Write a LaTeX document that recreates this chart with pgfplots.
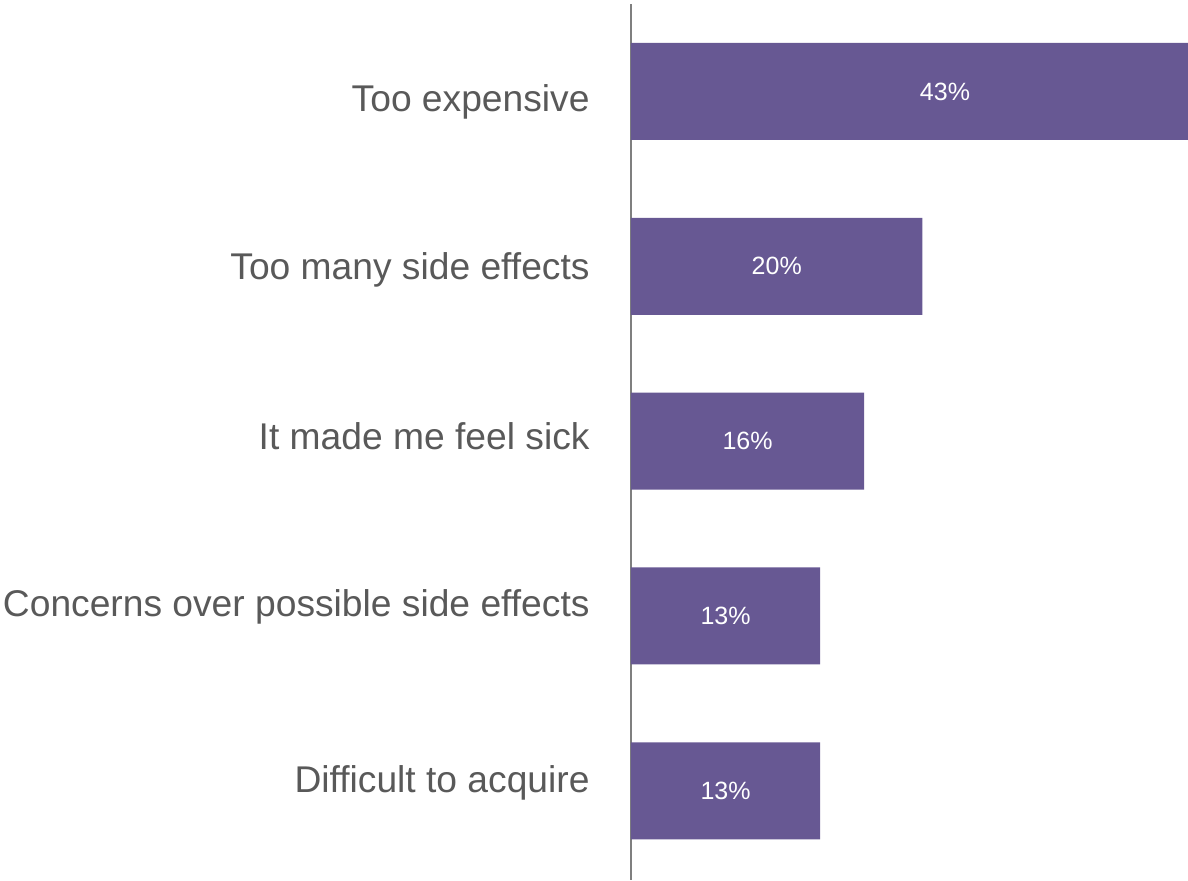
\documentclass[border=0pt]{standalone}
\usepackage{pgfplots}
\pgfplotsset{compat=1.18}
\usepackage{fontspec}
\setmainfont{Liberation Sans}
\definecolor{barcol}{HTML}{675893}
\definecolor{txtcol}{HTML}{595959}
\definecolor{axcol}{HTML}{7F7F7F}
\newcommand{\lab}[2]{\raisebox{#1}[0pt][0pt]{#2}}
\begin{document}
\begin{tikzpicture}
\begin{axis}[
  scale only axis,
  width=278.5pt, height=438pt,
  xmin=0, xmax=43,
  ymin=-0.5, ymax=4.51,
  y dir=reverse,
  axis x line=none,
  axis y line*=left,
  y axis line style={draw=axcol, line width=0.8pt, -},
  ytick={0,1,2,3,4},
  yticklabels={\lab{-9.95pt}{Too expensive},\lab{-6.7pt}{Too many side effects},\lab{-3.95pt}{It made me feel sick},\lab{-0.2pt}{Concerns over possible side effects},\lab{-0.7pt}{Difficult to acquire}},
  major tick length=0pt,
  yticklabel style={font=\fontsize{18.6}{21}\selectfont, text=txtcol, xshift=-17.2pt},
  clip=false,
]
\addplot[xbar, bar width=48.5pt, fill=barcol, draw=none] coordinates {
  (43,0) (22.5,1) (18,2) (14.6,3) (14.6,4)
};
\addplot[only marks, mark=none, nodes near coords, point meta=explicit symbolic,
  every node near coord/.style={anchor=center, text=white, font=\fontsize{12.5}{14}\selectfont}]
  coordinates {
  (24.24,0) [43\%]
  (11.25,1) [20\%]
  (9.0,2) [16\%]
  (7.3,3) [13\%]
  (7.3,4) [13\%]
};
\end{axis}
\pgfresetboundingbox
\useasboundingbox ([xshift=-315.5pt, yshift=2pt]current axis.north west) rectangle (current axis.south east);
\end{tikzpicture}
\end{document}
